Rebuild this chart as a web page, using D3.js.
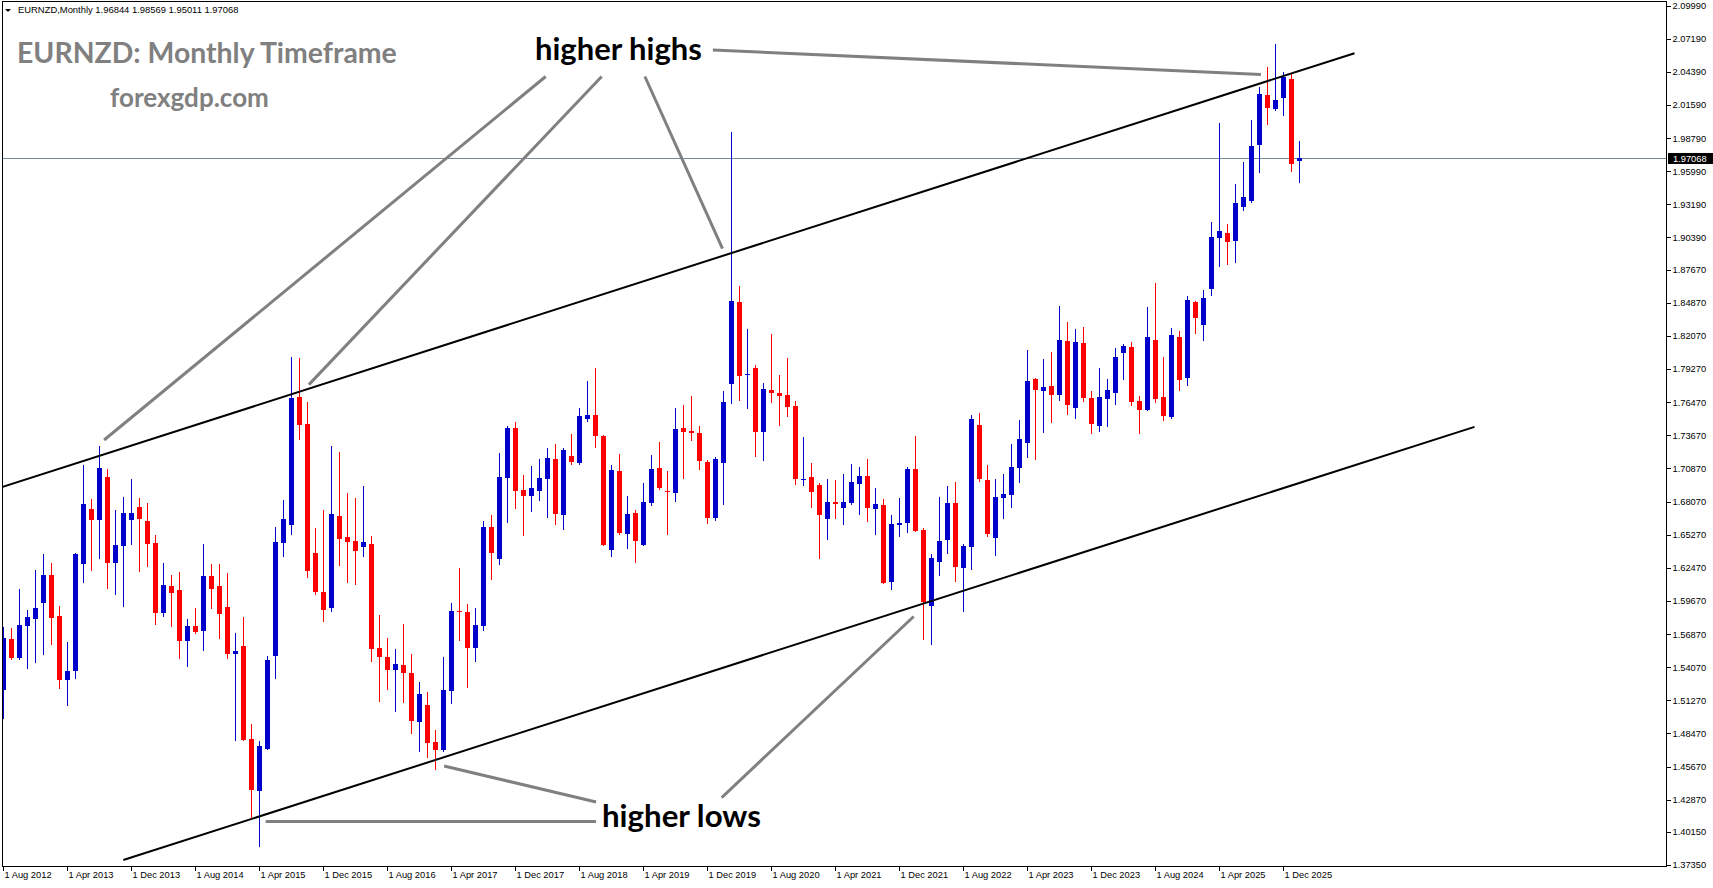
<!DOCTYPE html>
<html>
<head>
<meta charset="utf-8">
<script src="https://cdn.jsdelivr.net/npm/d3@7"></script>
<style>
  body { margin: 0; background: #fff; }
  svg { display: block; }
</style>
</head>
<body>
<div id="chart"></div>
<script>
// EURNZD monthly candles, first bar = Aug 2012, last bar = Feb 2026 (still open)
const openP = [
  1.5214, 1.5645, 1.5484, 1.5755, 1.5814, 1.5949, 1.6186, 1.5839, 1.5298, 1.5374,
  1.6278, 1.6743, 1.6650, 1.7014, 1.6287, 1.6431, 1.6650, 1.6760, 1.6642, 1.6456,
  1.5864, 1.6093, 1.6059, 1.5628, 1.5755, 1.5712, 1.6177, 1.6093, 1.5915, 1.5518,
  1.5586, 1.4800, 1.4360, 1.4715, 1.5501, 1.6456, 1.6608, 1.7690, 1.7461, 1.6371,
  1.6042, 1.5907, 1.6684, 1.6507, 1.6473, 1.6422, 1.6447, 1.5569, 1.5493, 1.5383,
  1.5425, 1.5357, 1.4943, 1.5087, 1.4774, 1.4707, 1.5205, 1.5881, 1.5873, 1.5569,
  1.5755, 1.6591, 1.6321, 1.7005, 1.7428, 1.6904, 1.6853, 1.6895, 1.6997, 1.7166,
  1.6693, 1.7191, 1.7132, 1.7504, 1.7538, 1.7360, 1.6397, 1.7064, 1.6532, 1.6709,
  1.6439, 1.6794, 1.7090, 1.6895, 1.6878, 1.7428, 1.7402, 1.7385, 1.7140, 1.6667,
  1.7132, 1.7799, 1.8492, 1.7876, 1.7935, 1.7394, 1.7749, 1.7723, 1.7707, 1.7614,
  1.6988, 1.7014, 1.6946, 1.6659, 1.6802, 1.6752, 1.6794, 1.6954, 1.7022, 1.6743,
  1.6777, 1.6126, 1.6608, 1.6625, 1.7081, 1.6566, 1.5924, 1.6296, 1.6481, 1.6794,
  1.6245, 1.6422, 1.7453, 1.6988, 1.6498, 1.6836, 1.6862, 1.7090, 1.7301, 1.7842,
  1.7740, 1.7783, 1.7707, 1.8163, 1.7597, 1.8146, 1.7681, 1.7445, 1.7673, 1.7723,
  1.8061, 1.8112, 1.7656, 1.7580, 1.8171, 1.7690, 1.7521, 1.8197, 1.7850, 1.8492,
  1.8298, 1.8602, 1.9033, 1.9075, 1.9008, 1.9295, 1.9346, 1.9819, 2.0242, 2.0123,
  2.0216, 2.0377, 1.96844
];
const highP = [
  1.5746, 1.5738, 1.6067, 1.5890, 1.6228, 1.6363, 1.6287, 1.5924, 1.5619, 1.6371,
  1.7115, 1.6828, 1.7276, 1.7081, 1.6735, 1.6845, 1.6997, 1.6836, 1.6794, 1.6524,
  1.6287, 1.6186, 1.6211, 1.5814, 1.5907, 1.6447, 1.6278, 1.6278, 1.6202, 1.5695,
  1.5831, 1.4926, 1.4783, 1.5501, 1.6591, 1.6819, 1.8028, 1.8019, 1.7647, 1.6583,
  1.6735, 1.7276, 1.7225, 1.6878, 1.6836, 1.6938, 1.6515, 1.5848, 1.5653, 1.5560,
  1.5771, 1.5518, 1.5281, 1.5197, 1.4876, 1.5493, 1.5949, 1.6245, 1.5940, 1.5907,
  1.6642, 1.6693, 1.7216, 1.7445, 1.7478, 1.7031, 1.7107, 1.7166, 1.7259, 1.7292,
  1.7259, 1.7377, 1.7597, 1.7825, 1.7935, 1.7369, 1.7115, 1.7208, 1.6853, 1.6735,
  1.6963, 1.7200, 1.7309, 1.7064, 1.7597, 1.7622, 1.7698, 1.7445, 1.7157, 1.7183,
  1.7740, 1.9929, 1.8628, 1.8264, 1.7960, 1.7808, 1.8222, 1.7876, 1.8019, 1.7656,
  1.7352, 1.7132, 1.6963, 1.6997, 1.6988, 1.7039, 1.7123, 1.7098, 1.7166, 1.6921,
  1.6828, 1.6693, 1.6836, 1.7098, 1.7360, 1.6583, 1.6363, 1.6845, 1.6938, 1.6971,
  1.6447, 1.7538, 1.7554, 1.7115, 1.6997, 1.7039, 1.7292, 1.7495, 1.8087, 1.7850,
  1.8011, 1.8070, 1.8459, 1.8323, 1.8264, 1.8281, 1.7740, 1.7935, 1.7842, 1.8104,
  1.8137, 1.8154, 1.7698, 1.8450, 1.8653, 1.8028, 1.8273, 1.8247, 1.8543, 1.8501,
  1.8594, 1.9168, 2.0005, 1.9151, 1.9489, 1.9675, 2.0030, 2.0309, 2.0478, 2.0672,
  2.0436, 2.0419, 1.98569
];
const lowP = [
  1.4969, 1.5467, 1.5467, 1.5391, 1.5442, 1.5510, 1.5594, 1.5222, 1.5079, 1.5307,
  1.6118, 1.6219, 1.6321, 1.6067, 1.6017, 1.5915, 1.6439, 1.6211, 1.6253, 1.5763,
  1.5831, 1.5746, 1.5476, 1.5408, 1.5687, 1.5543, 1.5898, 1.5645, 1.5476, 1.4783,
  1.4783, 1.4124, 1.3887, 1.4707, 1.5307, 1.6338, 1.6524, 1.7326, 1.6160, 1.6017,
  1.5788, 1.5873, 1.6262, 1.6118, 1.6101, 1.6338, 1.5450, 1.5112, 1.5214, 1.5028,
  1.5104, 1.4842, 1.4690, 1.4639, 1.4538, 1.4690, 1.5095, 1.5628, 1.5231, 1.5450,
  1.5712, 1.6143, 1.6270, 1.6625, 1.6743, 1.6515, 1.6718, 1.6811, 1.6667, 1.6608,
  1.6566, 1.7115, 1.7115, 1.7478, 1.7259, 1.6430, 1.6338, 1.6524, 1.6405, 1.6287,
  1.6431, 1.6769, 1.6904, 1.6524, 1.6802, 1.6997, 1.7318, 1.7073, 1.6616, 1.6642,
  1.6777, 1.7630, 1.7656, 1.7588, 1.7183, 1.7149, 1.7639, 1.7445, 1.7521, 1.6946,
  1.6938, 1.6752, 1.6321, 1.6481, 1.6659, 1.6608, 1.6777, 1.6693, 1.6633, 1.6524,
  1.6109, 1.6059, 1.6507, 1.6540, 1.6549, 1.5636, 1.5594, 1.6177, 1.6363, 1.6126,
  1.5873, 1.6228, 1.6971, 1.6507, 1.6346, 1.6659, 1.6752, 1.6963, 1.7174, 1.7157,
  1.7385, 1.7470, 1.7656, 1.7538, 1.7504, 1.7647, 1.7377, 1.7394, 1.7436, 1.7622,
  1.7833, 1.7614, 1.7377, 1.7571, 1.7639, 1.7487, 1.7504, 1.7740, 1.7783, 1.8222,
  1.8163, 1.8543, 1.8788, 1.8805, 1.8822, 1.9261, 1.9329, 1.9582, 1.9988, 2.0106,
  2.0064, 1.9591, 1.95011
];
const closeP = [
  1.5653, 1.5484, 1.5763, 1.5831, 1.5907, 1.6186, 1.5822, 1.5298, 1.5374, 1.6363,
  1.6785, 1.6650, 1.7090, 1.6287, 1.6439, 1.6709, 1.6709, 1.6659, 1.6447, 1.5864,
  1.6101, 1.6033, 1.5628, 1.5755, 1.5704, 1.6177, 1.6067, 1.5856, 1.5518, 1.5543,
  1.4791, 1.4369, 1.4741, 1.5467, 1.6464, 1.6659, 1.7681, 1.7453, 1.6219, 1.6042,
  1.5890, 1.6701, 1.6490, 1.6464, 1.6388, 1.6464, 1.5560, 1.5493, 1.5383, 1.5433,
  1.5357, 1.4952, 1.5180, 1.4766, 1.4707, 1.5214, 1.5881, 1.5873, 1.5569, 1.5763,
  1.6591, 1.6371, 1.7014, 1.7428, 1.6895, 1.6853, 1.6921, 1.7005, 1.7174, 1.6701,
  1.7242, 1.7140, 1.7529, 1.7538, 1.7360, 1.6439, 1.7073, 1.6540, 1.6701, 1.6473,
  1.6802, 1.7081, 1.6921, 1.6887, 1.7419, 1.7394, 1.7385, 1.7149, 1.6667, 1.7166,
  1.7647, 1.8501, 1.7867, 1.7884, 1.7394, 1.7757, 1.7723, 1.7698, 1.7605, 1.6997,
  1.6997, 1.6887, 1.6693, 1.6802, 1.6785, 1.6802, 1.6971, 1.7022, 1.6752, 1.6785,
  1.6118, 1.6616, 1.6625, 1.7081, 1.6557, 1.5957, 1.6329, 1.6473, 1.6794, 1.6253,
  1.6431, 1.7504, 1.6997, 1.6532, 1.6845, 1.6870, 1.7098, 1.7335, 1.7825, 1.7749,
  1.7774, 1.7707, 1.8171, 1.7622, 1.8154, 1.7681, 1.7461, 1.7690, 1.7749, 1.8028,
  1.8121, 1.7647, 1.7580, 1.8197, 1.7673, 1.7529, 1.8214, 1.7833, 1.8509, 1.8357,
  1.8526, 1.9042, 1.9092, 1.8999, 1.9329, 1.9380, 1.9811, 2.0250, 2.0132, 2.0199,
  2.0394, 1.9658, 1.97068
];

// axis ticks
const priceTicks = [
  2.0999, 2.0719, 2.0439, 2.0159, 1.9879, 1.9599, 1.9319, 1.9039, 1.8767, 1.8487,
  1.8207, 1.7927, 1.7647, 1.7367, 1.7087, 1.6807, 1.6527, 1.6247, 1.5967, 1.5687,
  1.5407, 1.5127, 1.4847, 1.4567, 1.4287, 1.4015, 1.3735
];
const dateTickIndex = [0, 8, 16, 24, 32, 40, 48, 56, 64, 72, 80, 88, 96, 104, 112, 120, 128, 136, 144, 152, 160];
const dateTickLabels = [
  "1 Aug 2012", "1 Apr 2013", "1 Dec 2013", "1 Aug 2014", "1 Apr 2015", "1 Dec 2015",
  "1 Aug 2016", "1 Apr 2017", "1 Dec 2017", "1 Aug 2018", "1 Apr 2019", "1 Dec 2019",
  "1 Aug 2020", "1 Apr 2021", "1 Dec 2021", "1 Aug 2022", "1 Apr 2023", "1 Dec 2023",
  "1 Aug 2024", "1 Apr 2025", "1 Dec 2025"
];

// channel trendlines as [bar index, price]
const upperChannel = [[-0.4, 1.6924], [168.9, 2.0596]];
const lowerChannel = [[15.0, 1.3777], [183.9, 1.7438]];

// grey pointer lines as [bar index, price]
const pointerLines = [
  [[67.8, 2.0399], [12.6, 1.7327]],
  [[74.8, 2.0399], [38.2, 1.7795]],
  [[80.2, 2.0399], [89.9, 1.8945]],
  [[88.7, 2.0623], [157.2, 2.0416]],
  [[74.1, 1.4267], [55.1, 1.4572]],
  [[74.1, 1.4103], [32.8, 1.4103]],
  [[89.8, 1.4305], [113.8, 1.5835]]
];

const W = 1713, H = 888;
const blue = "#0000cd", red = "#ff0000";

const x = d3.scaleLinear().domain([0, 160]).range([3.3, 1283.3]);
const y = d3.scaleLinear().domain([1.3735, 2.0999]).range([865, 5.5]);

const svg = d3.select("#chart").append("svg")
    .attr("width", W)
    .attr("height", H);

svg.append("rect").attr("width", W).attr("height", H).attr("fill", "#fff");

svg.append("clipPath").attr("id", "plotClip")
  .append("rect")
    .attr("x", 3).attr("y", 2)
    .attr("width", 1663).attr("height", 864);

const plot = svg.append("g").attr("clip-path", "url(#plotClip)");

// watermark texts
function fitText(sel, width) {
  const w = sel.node().getComputedTextLength();
  const fs = parseFloat(sel.attr("font-size"));
  sel.attr("font-size", fs * width / w);
}

const title = plot.append("text")
    .attr("x", 17).attr("y", 63)
    .attr("font-family", "Lato, 'Open Sans', sans-serif")
    .attr("font-weight", "bold")
    .attr("font-size", 30)
    .attr("fill", "#808080")
    .text("EURNZD: Monthly Timeframe");
fitText(title, 380);

const site = plot.append("text")
    .attr("x", 110).attr("y", 107)
    .attr("font-family", "Lato, 'Open Sans', sans-serif")
    .attr("font-weight", "bold")
    .attr("font-size", 24)
    .attr("fill", "#808080")
    .text("forexgdp.com");
fitText(site, 159);

// bid line
const lastClose = closeP[closeP.length - 1];
plot.append("line")
    .attr("x1", 0).attr("x2", 1667)
    .attr("y1", Math.round(y(lastClose)) + 0.5)
    .attr("y2", Math.round(y(lastClose)) + 0.5)
    .attr("stroke", "#778899")
    .attr("stroke-width", 1);

// candles
const candles = openP.map((o, i) => ({ i: i, o: o, h: highP[i], l: lowP[i], c: closeP[i] }));
const cg = plot.append("g").attr("shape-rendering", "crispEdges");

cg.selectAll("line")
  .data(candles)
  .enter().append("line")
    .attr("x1", d => Math.round(x(d.i)) + 0.5)
    .attr("x2", d => Math.round(x(d.i)) + 0.5)
    .attr("y1", d => y(d.h))
    .attr("y2", d => y(d.l))
    .attr("stroke", d => d.c >= d.o ? blue : red)
    .attr("stroke-width", 1);

cg.selectAll("rect")
  .data(candles)
  .enter().append("rect")
    .attr("x", d => Math.round(x(d.i)) - 2)
    .attr("width", 5)
    .attr("y", d => y(Math.max(d.o, d.c)))
    .attr("height", d => Math.max(1, Math.abs(y(d.o) - y(d.c))))
    .attr("fill", d => d.c >= d.o ? blue : red);

// channel
const line = d3.line().x(d => x(d[0])).y(d => y(d[1]));
plot.selectAll("path.channel")
  .data([upperChannel, lowerChannel])
  .enter().append("path")
    .attr("class", "channel")
    .attr("d", line)
    .attr("fill", "none")
    .attr("stroke", "#000")
    .attr("stroke-width", 2);

// pointer lines
plot.selectAll("path.pointer")
  .data(pointerLines)
  .enter().append("path")
    .attr("class", "pointer")
    .attr("d", line)
    .attr("fill", "none")
    .attr("stroke", "#808080")
    .attr("stroke-width", 3);

const hh = plot.append("text")
    .attr("x", 535).attr("y", 60)
    .attr("font-family", "Lato, 'Open Sans', sans-serif")
    .attr("font-weight", "bold")
    .attr("font-size", 28)
    .attr("fill", "#000")
    .text("higher highs");
fitText(hh, 167);

const hl = plot.append("text")
    .attr("x", 602).attr("y", 827)
    .attr("font-family", "Lato, 'Open Sans', sans-serif")
    .attr("font-weight", "bold")
    .attr("font-size", 28)
    .attr("fill", "#000")
    .text("higher lows");
fitText(hl, 159);

// header line
svg.append("path")
    .attr("d", "M5,9 L11,9 L8,12 Z")
    .attr("fill", "#000");
const header = svg.append("text")
    .attr("x", 18).attr("y", 13)
    .attr("font-family", "'Liberation Sans', Arial, sans-serif")
    .attr("font-size", 9)
    .attr("fill", "#000")
    .text("EURNZD,Monthly  1.96844 1.98569 1.95011 1.97068");
fitText(header, 221);

// y axis
const yAxis = d3.axisRight(y)
    .tickValues(priceTicks)
    .tickFormat(d3.format(".5f"))
    .tickSize(4)
    .tickPadding(2);
const yg = svg.append("g")
    .attr("transform", "translate(1666.5,0)")
    .attr("shape-rendering", "crispEdges")
    .call(yAxis);
yg.select(".domain").remove();
yg.selectAll("text")
    .attr("font-family", "'Liberation Sans', Arial, sans-serif")
    .attr("font-size", 9.3)
    .attr("fill", "#000")
    .attr("shape-rendering", null);
yg.selectAll("line").attr("stroke", "#000");

// x axis
const xAxis = d3.axisBottom(x)
    .tickValues(dateTickIndex)
    .tickFormat((d, i) => dateTickLabels[i])
    .tickSize(4);
const xg = svg.append("g")
    .attr("transform", "translate(0,866.5)")
    .attr("shape-rendering", "crispEdges")
    .call(xAxis);
xg.select(".domain").remove();
xg.selectAll(".tick").attr("transform", d => `translate(${Math.round(x(d)) + 0.5},0)`);
xg.selectAll("text")
    .attr("text-anchor", "start")
    .attr("x", 1)
    .attr("y", 5)
    .attr("dy", "0.71em")
    .attr("font-family", "'Liberation Sans', Arial, sans-serif")
    .attr("font-size", 9.3)
    .attr("fill", "#000");
xg.selectAll("line").attr("stroke", "#000");

// frame
svg.append("rect")
    .attr("x", 2.5).attr("y", 1.5)
    .attr("width", 1664).attr("height", 865)
    .attr("fill", "none")
    .attr("stroke", "#000")
    .attr("shape-rendering", "crispEdges");

// current price tag
const tagY = Math.round(y(lastClose));
svg.append("rect")
    .attr("x", 1668).attr("y", tagY - 5)
    .attr("width", 45).attr("height", 11)
    .attr("fill", "#000");
svg.append("text")
    .attr("x", 1673).attr("y", tagY + 0.5)
    .attr("dy", "0.35em")
    .attr("font-family", "'Liberation Sans', Arial, sans-serif")
    .attr("font-size", 9.3)
    .attr("fill", "#fff")
    .text(d3.format(".5f")(lastClose));
</script>
</body>
</html>
